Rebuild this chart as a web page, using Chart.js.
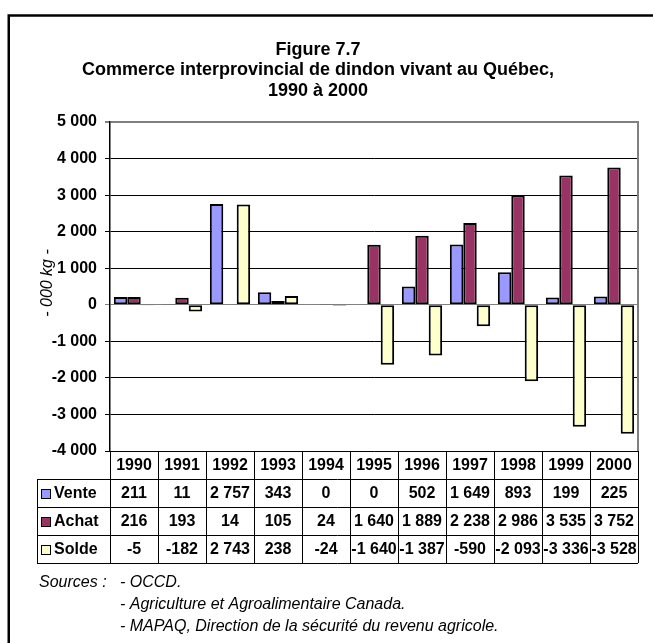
<!DOCTYPE html>
<html lang="fr">
<head>
<meta charset="utf-8">
<title>Figure 7.7</title>
<script src="https://cdn.jsdelivr.net/npm/chart.js@4/dist/chart.umd.min.js"></script>
<style>
  html, body { margin: 0; padding: 0; background: #fff; overflow: hidden; }
  canvas { display: block; }
</style>
</head>
<body>
<canvas id="chart" width="653" height="643"></canvas>
<script>
/* Figure 7.7 — commerce interprovincial de dindon vivant, Québec */

const years  = ['1990', '1991', '1992', '1993', '1994', '1995', '1996', '1997', '1998', '1999', '2000'];
const vente  = [211, 11, 2757, 343, 0, 0, 502, 1649, 893, 199, 225];
const achat  = [216, 193, 14, 105, 24, 1640, 1889, 2238, 2986, 3535, 3752];
const solde  = [-5, -182, 2743, 238, -24, -1640, -1387, -590, -2093, -3336, -3528];

const yMin = -4000, yMax = 5000, yStep = 1000;

const titleLines = ['Figure 7.7', 'Commerce interprovincial de dindon vivant au Québec,', '1990 à 2000'];
const yTitle     = '- 000 kg -';
const sourcesLbl = 'Sources :';
const sources    = ['- OCCD.', '- Agriculture et Agroalimentaire Canada.', '- MAPAQ, Direction de la sécurité du revenu agricole.'];

const FONT = '"Liberation Sans", Arial, sans-serif';

// 5000 -> "5 000", -1640 -> "-1 640"
const fmt = v => String(v).replace(/\B(?=(\d{3})+(?!\d))/g, ' ');

const series = [
  { label: 'Vente', data: vente, color: '#9999FF' },
  { label: 'Achat', data: achat, color: '#993366' },
  { label: 'Solde', data: solde, color: '#FFFFCC' }
];

// Frame, title, table, sources — everything Chart.js has no built-in for
const decor = {
  id: 'decor',
  beforeDraw(chart) {
    const ctx = chart.ctx;
    ctx.save();
    ctx.fillStyle = '#fff';
    ctx.fillRect(0, 0, chart.width, chart.height);
    ctx.strokeStyle = '#000';
    ctx.lineWidth = 2.5;
    ctx.beginPath();
    ctx.moveTo(8.75, chart.height);
    ctx.lineTo(8.75, 15.5);
    ctx.lineTo(chart.width, 15.5);
    ctx.stroke();
    ctx.restore();
  },
  afterDraw(chart) {
    const ctx  = chart.ctx;
    const area = chart.chartArea;
    const x    = chart.scales.x;
    const n    = years.length;
    const w    = (area.right - area.left) / n;
    const rowH = 28;
    const top  = area.bottom;
    const hdrL = 37;

    ctx.save();

    // gray right edge of plot
    ctx.strokeStyle = '#808080';
    ctx.lineWidth = 2;
    ctx.beginPath();
    ctx.moveTo(area.right, area.top - 1);
    ctx.lineTo(area.right, area.bottom);
    ctx.stroke();

    // title
    ctx.fillStyle = '#000';
    ctx.textAlign = 'center';
    ctx.textBaseline = 'middle';
    ctx.font = 'bold 18px ' + FONT;
    titleLines.forEach((t, i) => ctx.fillText(t, 318, 50 + i * 20.5));

    // y axis title
    ctx.save();
    ctx.translate(48, 283);
    ctx.rotate(-Math.PI / 2);
    ctx.font = 'italic 16px ' + FONT;
    ctx.fillText(yTitle, 0, 0);
    ctx.restore();

    // data table grid
    ctx.strokeStyle = '#000';
    ctx.lineWidth = 1;
    ctx.beginPath();
    for (let i = 0; i <= n; i++) {
      const xx = Math.round(area.left + i * w) + 0.5;
      ctx.moveTo(xx, top);
      ctx.lineTo(xx, top + rowH * 4);
    }
    ctx.moveTo(hdrL + 0.5, top + rowH);
    ctx.lineTo(hdrL + 0.5, top + rowH * 4);
    for (let r = 1; r <= 4; r++) {
      const yy = Math.round(top + r * rowH) + 0.5;
      ctx.moveTo(hdrL, yy);
      ctx.lineTo(area.right, yy);
    }
    ctx.stroke();

    // years header
    ctx.font = 'bold 16px ' + FONT;
    ctx.textAlign = 'center';
    years.forEach((yr, i) => ctx.fillText(yr, x.getPixelForValue(i), top + rowH / 2 + 1));

    // series rows
    series.forEach((s, r) => {
      const cy = top + rowH * (r + 1) + rowH / 2 + 1;
      ctx.fillStyle = s.color;
      ctx.fillRect(41, cy - 5, 10, 10);
      ctx.strokeStyle = '#000';
      ctx.strokeRect(41.5, cy - 4.5, 9, 9);
      ctx.fillStyle = '#000';
      ctx.textAlign = 'left';
      ctx.fillText(s.label, 54, cy);
      ctx.textAlign = 'center';
      s.data.forEach((v, i) => ctx.fillText(fmt(v), x.getPixelForValue(i), cy));
    });

    // sources
    ctx.font = 'italic 16px ' + FONT;
    ctx.textAlign = 'left';
    ctx.fillText(sourcesLbl, 39, 583);
    sources.forEach((s, i) => ctx.fillText(s, 120, 583 + i * 22));

    ctx.restore();
  }
};

new Chart(document.getElementById('chart'), {
  type: 'bar',
  data: {
    labels: years,
    datasets: series.map(s => ({
      label: s.label,
      data: s.data,
      backgroundColor: s.color,
      borderColor: '#000',
      borderWidth: 2,
      borderSkipped: false,
      barPercentage: 1,
      categoryPercentage: 0.84
    }))
  },
  options: {
    responsive: false,
    animation: false,
    devicePixelRatio: 1,
    layout: { padding: { top: 122, bottom: 192, left: 0, right: 15 } },
    plugins: {
      legend: { display: false },
      title: { display: false },
      tooltip: { enabled: false }
    },
    scales: {
      x: { display: false },
      y: {
        min: yMin,
        max: yMax,
        afterFit: s => { s.width = 110; },
        border: { color: '#000', width: 1.5 },
        grid: {
          tickLength: 5,
          color: c => (c.tick && (c.tick.value === 0 || c.tick.value === yMax)) ? '#808080' : '#000',
          lineWidth: c => (c.tick && c.tick.value === yMax) ? 2 : 1
        },
        ticks: {
          stepSize: yStep,
          padding: 8,
          color: '#000',
          font: { family: FONT, size: 16, weight: 'bold' },
          callback: v => fmt(v)
        }
      }
    }
  },
  plugins: [decor]
});
</script>
</body>
</html>
